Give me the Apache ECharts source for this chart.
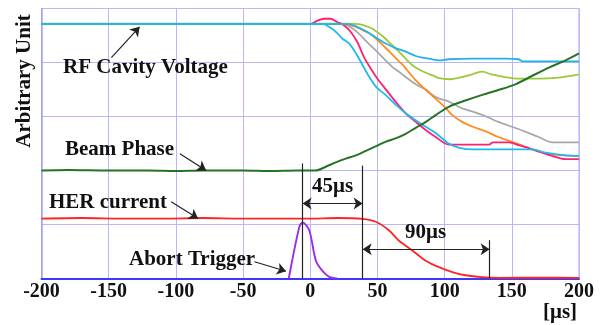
<!DOCTYPE html>
<html><head><meta charset="utf-8">
<script src="https://cdn.jsdelivr.net/npm/echarts@6/dist/echarts.min.js"></script>
<style>html,body{margin:0;padding:0;background:#fff}#c{width:605px;height:325px}</style>
</head><body><div id="c"></div>
<script>
// ---- data (x in µs, y in arbitrary units) ----
const xTicks = [-200, -150, -100, -50, 0, 50, 100, 150, 200];

const rfPinkT = [-200, 0, 5, 10, 15, 20, 25, 30, 35, 40, 45, 50, 55, 63.6, 71, 78.5, 85.9, 93.4, 103, 116, 133, 136, 148, 155, 163, 170, 180, 190, 200];
const rfPinkV = [4.71, 4.71, 4.77, 4.81, 4.81, 4.75, 4.69, 4.57, 4.38, 4.10, 3.89, 3.70, 3.54, 3.27, 3.06, 2.90, 2.75, 2.62, 2.48, 2.48, 2.48, 2.52, 2.52, 2.47, 2.41, 2.35, 2.27, 2.21, 2.21];

const rfCyanT = [-200, 10, 14, 19, 24, 29, 34, 39, 44, 49, 56, 64, 71, 78.5, 86, 93, 103, 111, 121, 145, 165, 175, 190, 200];
const rfCyanV = [4.71, 4.71, 4.66, 4.57, 4.44, 4.35, 4.17, 3.95, 3.73, 3.55, 3.40, 3.21, 3.06, 2.93, 2.81, 2.70, 2.50, 2.42, 2.39, 2.39, 2.39, 2.33, 2.28, 2.27];

const rfSkyT = [-200, 29, 34, 39, 44, 49, 54, 59, 64, 69, 74, 78.5, 83.5, 88.4, 96, 103, 121, 145, 155, 158, 200];
const rfSkyV = [4.71, 4.71, 4.67, 4.61, 4.54, 4.46, 4.38, 4.32, 4.26, 4.22, 4.17, 4.12, 4.09, 4.07, 4.04, 4.06, 4.07, 4.07, 4.06, 4.02, 4.02];

const rfLimeT = [-200, 26, 36, 41, 46, 51, 56, 61, 66, 71, 76, 81, 86, 91, 96, 103, 111, 118, 128, 135, 145, 155, 170, 185, 200];
const rfLimeV = [4.72, 4.72, 4.71, 4.68, 4.63, 4.54, 4.44, 4.32, 4.20, 4.07, 3.95, 3.87, 3.81, 3.76, 3.71, 3.69, 3.72, 3.76, 3.83, 3.78, 3.73, 3.70, 3.70, 3.72, 3.78];

const rfOrangeT = [-200, 25, 34, 39, 44, 49, 54, 59, 64, 69, 74, 78.5, 83.5, 86, 91, 96, 101, 106, 113, 121, 131, 140, 150, 160, 170, 180, 190, 200];
const rfOrangeV = [4.71, 4.71, 4.66, 4.60, 4.54, 4.44, 4.32, 4.20, 4.07, 3.95, 3.80, 3.67, 3.55, 3.49, 3.38, 3.27, 3.15, 3.02, 2.90, 2.81, 2.72, 2.62, 2.53, 2.44, 2.36, 2.30, 2.28, 2.27];

const rfGrayT = [-200, 25, 31.5, 36, 41, 46, 51, 56, 61, 66, 71, 76, 81, 86, 91, 96, 101, 106, 113, 121, 131, 140, 150, 160, 170, 180, 190, 200];
const rfGrayV = [4.71, 4.71, 4.63, 4.54, 4.41, 4.29, 4.17, 4.04, 3.92, 3.83, 3.73, 3.64, 3.56, 3.50, 3.40, 3.33, 3.30, 3.24, 3.15, 3.09, 3.00, 2.90, 2.81, 2.72, 2.62, 2.52, 2.52, 2.52];

const phaseT = [-200, -180, -150, -120, -100, -80, -50, -30, -10, 4, 11.6, 19, 26.5, 34, 41, 49, 56, 64, 71, 78.5, 86, 93, 103, 116, 128, 140, 153, 165, 178, 190, 200];
const phaseV = [2.0, 2.01, 2.0, 2.0, 1.99, 2.0, 2.0, 1.99, 2.0, 2.0, 2.07, 2.15, 2.22, 2.28, 2.36, 2.45, 2.53, 2.60, 2.68, 2.79, 2.90, 3.02, 3.18, 3.30, 3.40, 3.49, 3.60, 3.75, 3.91, 4.04, 4.17];

const herT = [-200, -170, -140, -110, -80, -50, -20, 0, 20, 38.9, 48.8, 58.7, 66.1, 76, 85.9, 95.8, 105.7, 115.7, 128, 140.4, 170, 200];
const herV = [1.11, 1.12, 1.11, 1.11, 1.12, 1.11, 1.11, 1.11, 1.12, 1.105, 1.05, 0.89, 0.70, 0.52, 0.33, 0.21, 0.12, 0.06, 0.025, 0.012, 0.015, 0.012];

const abortT = [-16, -8.2, -5.7, -0.7, 4.2, 9.1, 14.1, 20];
const abortV = [0, 0.95, 1.04, 0.89, 0.33, 0.14, 0.03, 0];

// annotation times
const abortTime = -5.7;
const dropTime = 39;
const endTime = 133.5;

const zip = (t, v) => t.map((x, i) => [x, v[i]]);

const FONT = '"Liberation Serif","Times New Roman",serif';
const LBL = 'bold 21px ' + FONT;

function curve(name, t, v, color, w) {
  return { name, type: 'line', data: zip(t, v), showSymbol: false, symbol: 'none',
    lineStyle: { color, width: w || 1.8 }, smooth: 0.3, z: 3 };
}

const arrowP = (a, b) => [{ coord: a, symbol: 'none' }, { coord: b, symbol: 'arrow' }];
const dblP = (a, b) => [{ coord: a, symbol: 'arrow' }, { coord: b, symbol: 'arrow' }];
const lineP = (a, b) => [{ coord: a, symbol: 'none' }, { coord: b, symbol: 'none' }];

const chart = echarts.init(document.getElementById('c'), null, { renderer: 'canvas' });
chart.setOption({
  animation: false,
  grid: { left: 41.5, right: 26, top: 8.5, bottom: 46.5, show: true, borderColor: '#a9a9f2', borderWidth: 1 },
  xAxis: {
    type: 'value', min: -200, max: 200, interval: 50,
    axisLine: { show: true, onZero: false, lineStyle: { color: '#3a3aff', width: 2 } },
    axisTick: { show: false },
    axisLabel: { margin: 3, color: '#111', fontFamily: FONT, fontWeight: 'bold', fontSize: 20,
      formatter: v => xTicks.includes(v) ? String(v) : '' },
    splitLine: { show: true, lineStyle: { color: '#b8b8f5', width: 1 } }
  },
  yAxis: {
    type: 'value', min: 0, max: 5, interval: 1,
    axisLine: { show: true, onZero: false, lineStyle: { color: '#a0a0f0', width: 1.5 } },
    axisTick: { show: false }, axisLabel: { show: false },
    splitLine: { show: true, lineStyle: { color: '#b8b8f5', width: 1 } }
  },
  series: [
    curve('gray', rfGrayT, rfGrayV, '#a8a8a8'),
    curve('orange', rfOrangeT, rfOrangeV, '#ff8c1f'),
    curve('lime', rfLimeT, rfLimeV, '#9dc83a'),
    curve('pink', rfPinkT, rfPinkV, '#ff2070'),
    curve('sky', rfSkyT, rfSkyV, '#22b2e8'),
    curve('cyan', rfCyanT, rfCyanV, '#1cbaf0'),
    curve('Beam Phase', phaseT, phaseV, '#267326', 2),
    curve('HER current', herT, herV, '#ff2424'),
    curve('Abort Trigger', abortT, abortV, '#9a30e6', 1.9),
    { type: 'line', data: [], z: 5,
      markLine: { silent: true, animation: false, symbolSize: [9, 9],
        label: { show: false },
        lineStyle: { color: '#222', width: 1.2, type: 'solid' },
        data: [
          arrowP([-148, 4.09], [-127, 4.66]),
          arrowP([-97, 2.31], [-77.5, 2.0]),
          arrowP([-103.5, 1.42], [-83.5, 1.11]),
          arrowP([-41.5, 0.31], [-18, 0.135]),
          dblP([abortTime, 1.39], [dropTime, 1.39]),
          dblP([dropTime, 0.54], [endTime, 0.54]),
          lineP([abortTime, 2.13], [abortTime, 0]),
          lineP([dropTime, 2.09], [dropTime, 0]),
          lineP([endTime, 0.71], [endTime, 0])
        ] } }
  ],
  graphic: [
    { type: 'text', x: 25, y: 81, rotation: Math.PI / 2, z: 10,
      style: { text: 'Arbitrary Unit', font: LBL, fill: '#111', align: 'center', verticalAlign: 'middle' } },
    { type: 'text', x: 63, y: 68, z: 10, style: { text: 'RF Cavity Voltage', font: LBL, fill: '#111', verticalAlign: 'middle' } },
    { type: 'text', x: 65, y: 150, z: 10, style: { text: 'Beam Phase', font: LBL, fill: '#111', verticalAlign: 'middle' } },
    { type: 'text', x: 49, y: 203, z: 10, style: { text: 'HER current', font: LBL, fill: '#111', verticalAlign: 'middle' } },
    { type: 'text', x: 129, y: 260, z: 10, style: { text: 'Abort Trigger', font: LBL, fill: '#111', verticalAlign: 'middle' } },
    { type: 'text', x: 312, y: 187, z: 10, style: { text: '45μs', font: LBL, fill: '#111', verticalAlign: 'middle' } },
    { type: 'text', x: 405, y: 233, z: 10, style: { text: '90μs', font: LBL, fill: '#111', verticalAlign: 'middle' } },
    { type: 'text', x: 543, y: 313, z: 10, style: { text: '[μs]', font: LBL, fill: '#111', verticalAlign: 'middle' } }
  ]
});
</script></body></html>
